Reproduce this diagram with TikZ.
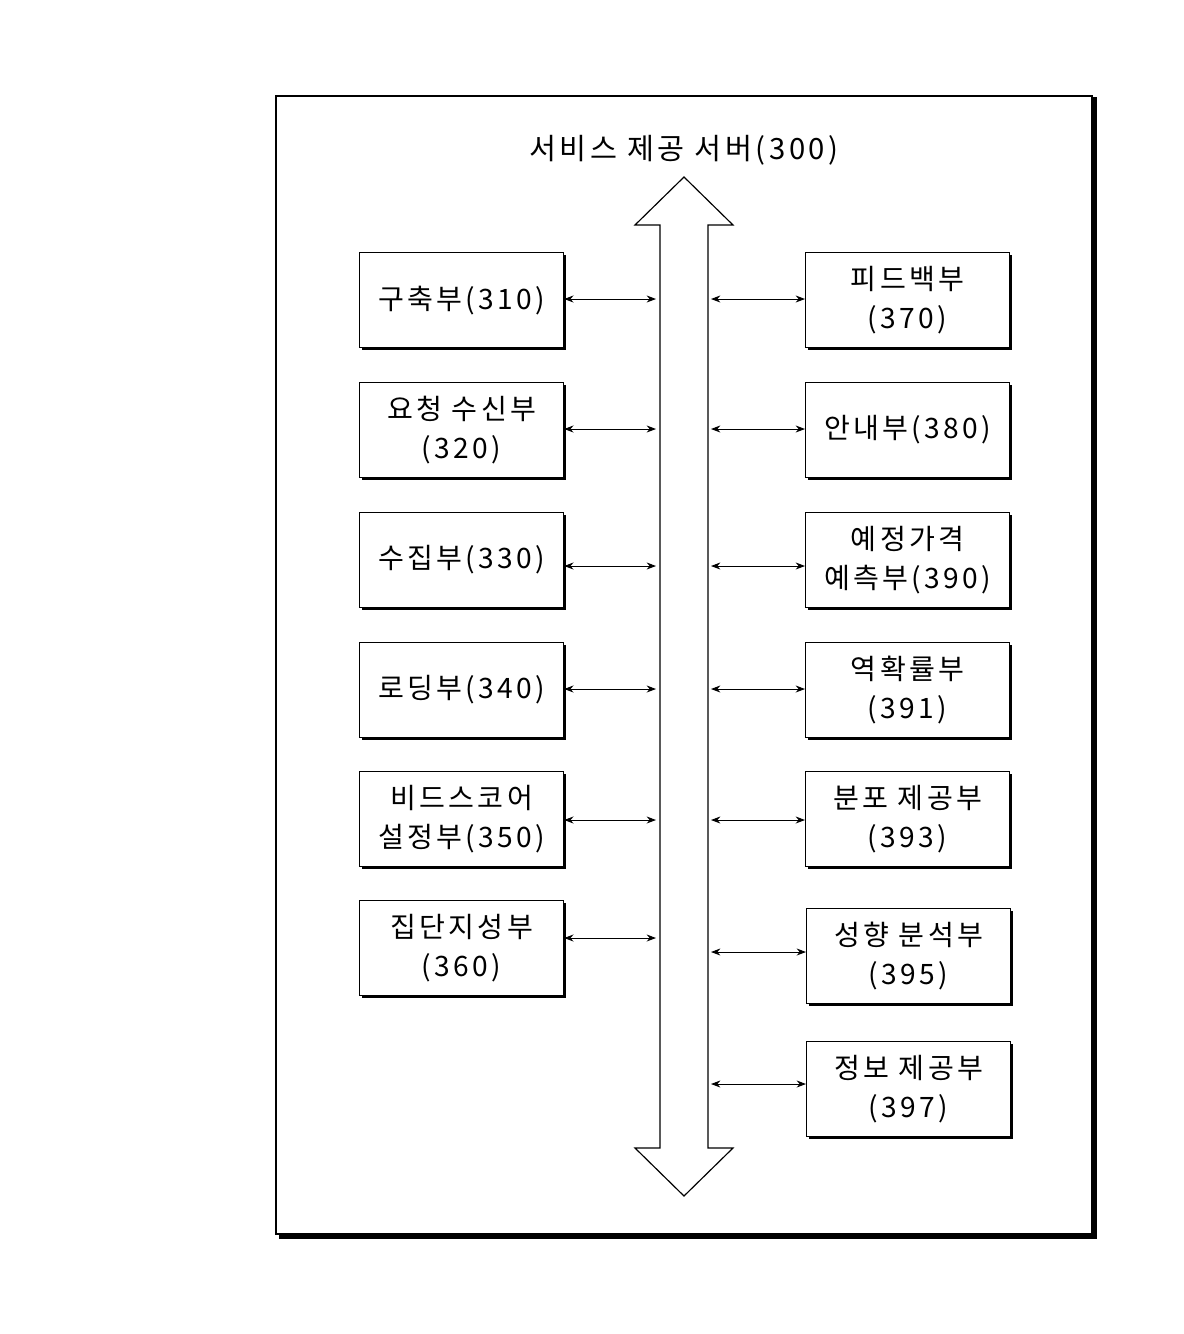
\documentclass[tikz,border=0pt]{standalone}
\usepackage{fontspec}
\newfontfamily\kr[LetterSpace=12]{Noto Sans CJK KR}
\usetikzlibrary{arrows.meta}
\begin{document}
\begin{tikzpicture}[x=0.03cm,y=-0.03cm,
  conn/.style={{Stealth[length=8pt,width=6pt]}-{Stealth[length=8pt,width=6pt]},line width=0.8pt}]
\useasboundingbox (0,0) rectangle (1184,1334);
% frame with shadow
\draw[line width=3pt] (279,99) -- (1095,99) -- (1095,1237) -- (279,1237);
\draw[line width=1pt,fill=white] (276,96) rectangle (1092,1234);
\node[font=\kr\fontsize{25}{33}\selectfont] (title) at (684,150) {서비스 제공 서버(300)};
% big double arrow
\draw[line width=1pt,fill=white] (684,177) -- (733,225) -- (708,225) -- (708,1148) -- (733,1148) -- (684,1196) -- (635,1148) -- (660,1148) -- (660,225) -- (635,225) -- cycle;
\newcommand{\mybox}[4]{%
  \fill (#1+3,#2+3) rectangle (#1+207,#2+98);
  \node[draw,line width=1pt,fill=white,minimum width=204*0.03cm,minimum height=95*0.03cm,align=center,inner sep=0pt,font=\kr\fontsize{24}{33}\selectfont,anchor=north west] (#3) at (#1,#2) {#4};}
\mybox{359}{252}{l1}{구축부(310)}
\mybox{359}{382}{l2}{요청 수신부\\(320)}
\mybox{359}{512}{l3}{수집부(330)}
\mybox{359}{642}{l4}{로딩부(340)}
\mybox{359}{771}{l5}{비드스코어\\설정부(350)}
\mybox{359}{900}{l6}{집단지성부\\(360)}
\mybox{805}{252}{r1}{피드백부\\(370)}
\mybox{805}{382}{r2}{안내부(380)}
\mybox{805}{512}{r3}{예정가격\\예측부(390)}
\mybox{805}{642}{r4}{역확률부\\(391)}
\mybox{805}{771}{r5}{분포 제공부\\(393)}
\mybox{806}{908}{r6}{성향 분석부\\(395)}
\mybox{806}{1041}{r7}{정보 제공부\\(397)}
\foreach \n/\y in {l1/299,l2/429,l3/566,l4/689,l5/820,l6/938}{
  \coordinate (c\n) at (656,\y);
  \draw[conn] (\n.east|-c\n) -- (c\n);}
\foreach \n/\y in {r1/299,r2/429,r3/566,r4/689,r5/820,r6/952,r7/1084}{
  \coordinate (c\n) at (711,\y);
  \draw[conn] (c\n) -- (\n.west|-c\n);}
\end{tikzpicture}
\end{document}
